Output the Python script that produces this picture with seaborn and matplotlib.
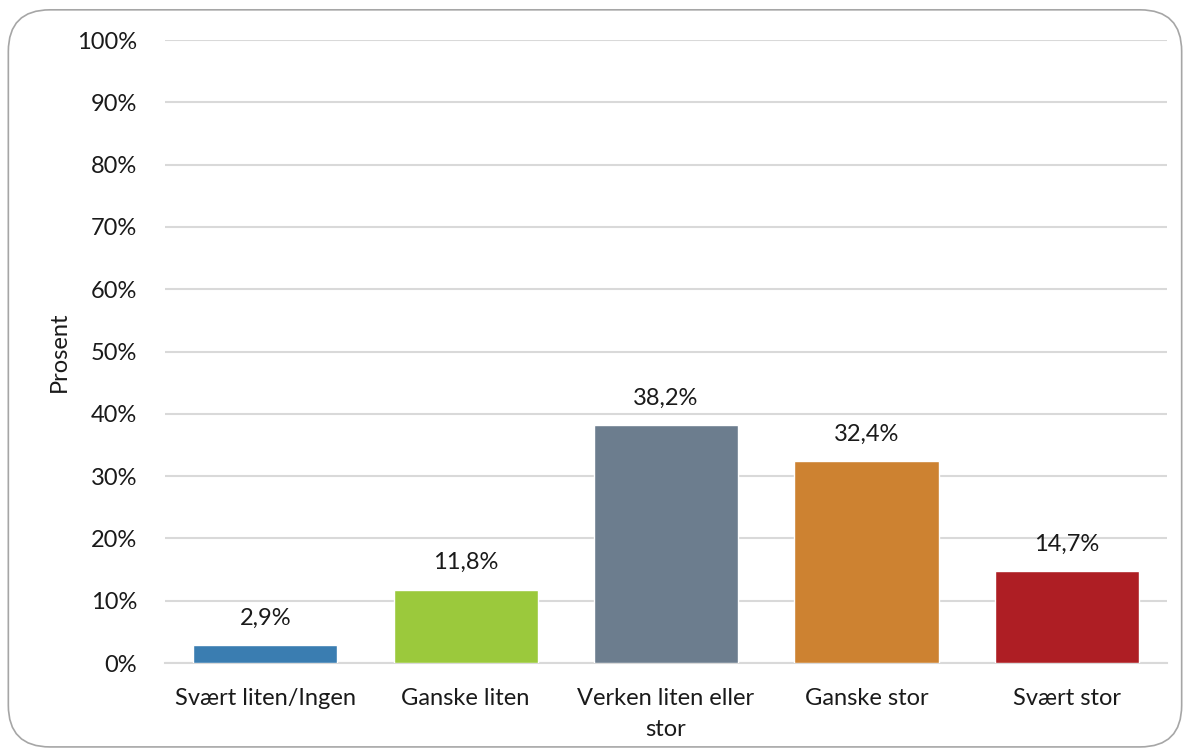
import matplotlib
matplotlib.use("Agg")
import matplotlib.pyplot as plt
import pandas as pd
import seaborn as sns
from matplotlib.patches import FancyBboxPatch

categories = ["Svært liten/Ingen", "Ganske liten", "Verken liten eller\nstor", "Ganske stor", "Svært stor"]
values = [2.9, 11.8, 38.2, 32.4, 14.7]
colors = ["#3A7DB1", "#9BC93C", "#6C7D8E", "#CD8231", "#AE1E24"]
yticks = list(range(0, 101, 10))

sns.set_theme(style="white")
plt.rcParams["font.family"] = ["Lato", "DejaVu Sans"]
FS = 17

df = pd.DataFrame({"Kategori": categories, "Prosent": values})

fig = plt.figure(figsize=(11.9, 7.56), dpi=100)
ax = fig.add_axes([0.1387, 0.123, 0.842, 0.824])

# rounded chart frame
frame = FancyBboxPatch((0.007, 0.012), 0.986, 0.975, boxstyle="round,pad=0,rounding_size=0.035",
                       transform=fig.transFigure, facecolor="white", edgecolor="#A6A6A6",
                       linewidth=1.2, zorder=-10, mutation_aspect=1190 / 756)
fig.patches.append(frame)

sns.barplot(data=df, x="Kategori", y="Prosent", hue="Kategori", palette=colors,
            width=0.72, saturation=1, legend=False, ax=ax, zorder=3)

for i, v in enumerate(values):
    ax.text(i, v + 2.6, f"{v:.1f}%".replace(".", ","), ha="center", va="bottom",
            fontsize=FS, color="#1a1a1a")

ax.set_ylim(0, 100)
ax.set_yticks(yticks)
ax.set_yticklabels([f"{t}%" for t in yticks], fontsize=FS, color="#1a1a1a")
ax.set_xticks(range(len(categories)))
ax.set_xticklabels(categories, fontsize=FS, color="#1a1a1a", linespacing=1.6)
ax.set_xlim(-0.5, len(categories) - 0.5)
ax.grid(axis="y", color="#D9D9D9", linewidth=1.5, zorder=0)
ax.set_axisbelow(True)
ax.set_xlabel("")
ax.set_ylabel("Prosent", fontsize=FS, color="#1a1a1a", labelpad=5)
ax.tick_params(axis="y", length=0, pad=20)
ax.tick_params(axis="x", length=0, pad=18)
for s in ["top", "right", "left"]:
    ax.spines[s].set_visible(False)
ax.spines["bottom"].set_color("#D9D9D9")
ax.spines["bottom"].set_linewidth(1.5)
ax.patch.set_alpha(0)

fig.savefig("out.png", dpi=100)
